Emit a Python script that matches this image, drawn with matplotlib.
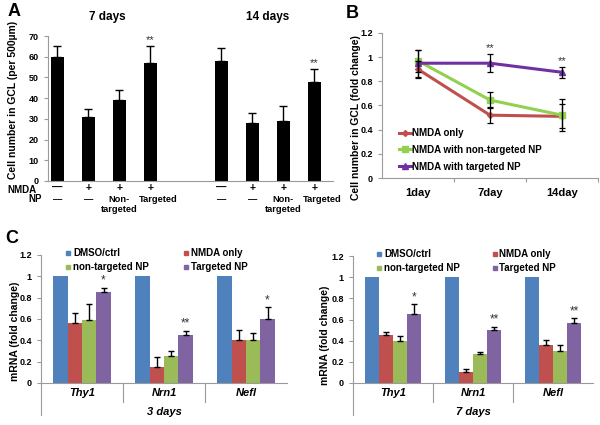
import numpy as np
import matplotlib
matplotlib.use("Agg")
import matplotlib.pyplot as plt

plt.rcParams['font.family'] = ['Liberation Sans', 'DejaVu Sans']
plt.rcParams['font.weight'] = 'bold'

# panel A data
a_pos = [0, 1, 2, 3, 5.3, 6.3, 7.3, 8.3]
a_vals = [60, 31, 39, 57, 58, 28, 29, 48]
a_err = [5, 4, 5, 8, 6, 5, 7, 6]
a_stars = ["", "", "", "**", "", "", "", "**"]
nmda_row = ["—", "+", "+", "+", "—", "+", "+", "+"]
np_row = ["—", "—", "Non-\ntargeted", "Targeted", "—", "—", "Non-\ntargeted", "Targeted"]

# panel B data
b_days = ["1day", "7day", "14day"]
b_nmda = [0.90, 0.52, 0.51]
b_nmda_err = [0.07, 0.065, 0.10]
b_nontarget = [0.97, 0.645, 0.52]
b_nontarget_err = [0.09, 0.065, 0.13]
b_target = [0.95, 0.95, 0.875]
b_target_err = [0.11, 0.075, 0.045]
b_stars = ["", "**", "**"]

# panel C data
genes = ["Thy1", "Nrn1", "Nefl"]
c_series = ["DMSO/ctrl", "NMDA only", "non-targeted NP", "Targeted NP"]
c3_vals = [[1, 1, 1], [0.56, 0.15, 0.40], [0.59, 0.25, 0.40], [0.85, 0.45, 0.60]]
c3_err = [[0, 0, 0], [0.10, 0.09, 0.095], [0.15, 0.05, 0.07], [0.045, 0.04, 0.11]]
c3_stars = ["*", "**", "*"]
c7_vals = [[1, 1, 1], [0.455, 0.10, 0.355], [0.40, 0.27, 0.30], [0.65, 0.50, 0.57]]
c7_err = [[0, 0, 0], [0.03, 0.03, 0.055], [0.04, 0.025, 0.055], [0.095, 0.03, 0.04]]
c7_stars = ["*", "**", "**"]

c_colors = ["#4F81BD", "#C0504D", "#9BBB59", "#8064A2"]
grey = "#9a9a9a"


def fx(x):
    return x / 600


def fy(y):
    return 1 - y / 425


def box(l, t, r, b):
    return [fx(l), fy(b), (r - l) / 600, (b - t) / 425]


def excel_axes(ax):
    for s in ["top", "right"]:
        ax.spines[s].set_visible(False)
    for s in ["left", "bottom"]:
        ax.spines[s].set_color(grey)
        ax.spines[s].set_linewidth(0.8)
    ax.tick_params(colors=grey, labelcolor="black", labelsize=6.5, length=3, width=0.8)
    for t in ax.get_yticklabels():
        t.set_fontweight("bold")


fig = plt.figure(figsize=(6, 4.25), dpi=100)

# ---------- A ----------
axA = fig.add_axes(box(48, 36, 333, 181))
axA.bar(a_pos, a_vals, width=0.42, color="black", zorder=2)
axA.errorbar(a_pos, a_vals, yerr=[np.zeros(len(a_err)), a_err], fmt="none",
             ecolor="black", elinewidth=1, capsize=3, capthick=1, zorder=3)
for x, v, e, s in zip(a_pos, a_vals, a_err, a_stars):
    if s:
        axA.text(x, v + e + 0.5, s, ha="center", va="bottom", fontsize=8,
                 fontweight="normal", color="#333333")
axA.set_ylim(0, 70)
axA.set_xlim(-0.3, 8.9)
axA.set_yticks(range(0, 71, 10))
axA.set_xticks([])
excel_axes(axA)
for x, n, p in zip(a_pos, nmda_row, np_row):
    axA.text(x, -0.05, n, transform=axA.get_xaxis_transform(), ha="center",
             va="center", fontsize=7.5)
    # "Targeted" sits a little to the right of its bar in the original
    dx = 0.25 if p == "Targeted" else 0
    axA.text(x + dx, -0.10, p, transform=axA.get_xaxis_transform(), ha="center",
             va="top", fontsize=6.7, linespacing=1.05, multialignment="center")
fig.text(fx(36), fy(190), "NMDA", ha="right", va="center", fontsize=7)
fig.text(fx(42), fy(199), "NP", ha="right", va="center", fontsize=7)
fig.text(fx(107), fy(17), "7 days", ha="center", va="center", fontsize=8.5)
fig.text(fx(268), fy(17), "14 days", ha="center", va="center", fontsize=8.5)
fig.text(fx(13), fy(100), "Cell number in GCL (per 500µm)", rotation=90,
         ha="center", va="center", fontsize=7.5)
fig.text(fx(14), fy(12), "A", ha="center", va="center", fontsize=13)

# ---------- B ----------
axB = fig.add_axes(box(382, 33, 598, 178))
bx = np.arange(len(b_days))
axB.plot(bx, b_nmda, color="#C0504D", lw=2.2, marker="D", ms=3, label="NMDA only", zorder=3)
axB.plot(bx, b_nontarget, color="#92D050", lw=2.2, marker="s", ms=5,
         label="NMDA with non-targeted NP", zorder=3)
axB.plot(bx, b_target, color="#7030A0", lw=2.2, marker="^", ms=5,
         label="NMDA with targeted NP", zorder=4)
for vals, errs in [(b_nmda, b_nmda_err), (b_nontarget, b_nontarget_err), (b_target, b_target_err)]:
    axB.errorbar(bx, vals, yerr=errs, fmt="none", ecolor="black", elinewidth=0.9,
                 capsize=2, capthick=0.9, zorder=5)
for x, v, e, s in zip(bx, b_target, b_target_err, b_stars):
    if s:
        axB.text(x, v + e + 0.01, s, ha="center", va="bottom", fontsize=8,
                 fontweight="normal", color="#333333")
axB.set_xlim(-0.5, 2.5)
axB.set_ylim(0, 1.2)
axB.set_yticks(np.arange(0, 1.21, 0.2))
axB.set_yticklabels([f"{v:g}" for v in np.arange(0, 1.21, 0.2).round(1)])
axB.set_xticks([0.5, 1.5, 2.5])
axB.set_xticklabels([])
excel_axes(axB)
for x, d in zip(bx, b_days):
    axB.text(x, -0.07, d, transform=axB.get_xaxis_transform(), ha="center",
             va="top", fontsize=8)
leg = axB.legend(loc="lower left", bbox_to_anchor=(0.05, 0.0), frameon=False,
                 fontsize=7, handlelength=1.2, handletextpad=0.1, labelspacing=0.7,
                 borderaxespad=0.25)
fig.text(fx(356), fy(118), "Cell number in GCL (fold change)", rotation=90,
         ha="center", va="center", fontsize=7.5)
fig.text(fx(352), fy(13), "B", ha="center", va="center", fontsize=13)


# ---------- C ----------
def mrna_panel(ax, vals, errs, stars, days):
    w = 0.175
    gx = np.arange(len(genes))
    for i, (v, e) in enumerate(zip(vals, errs)):
        xs = gx + (i - 1.5) * w
        ax.bar(xs, v, width=w, color=c_colors[i], zorder=2)
        if i > 0:
            ax.errorbar(xs, v, yerr=[np.zeros(len(e)), e], fmt="none", ecolor="black",
                        elinewidth=1, capsize=2, capthick=1, zorder=3)
    top = np.array(vals[3]) + np.array(errs[3])
    for x, t, s in zip(gx + 1.5 * w, top, stars):
        ax.text(x, t + 0.01, s, ha="center", va="bottom", fontsize=8.5,
                fontweight="normal", color="#333333")
    ax.set_xlim(-0.5, 2.5)
    ax.set_ylim(0, 1.2)
    ax.set_yticks(np.arange(0, 1.21, 0.2))
    ax.set_yticklabels([f"{v:g}" for v in np.arange(0, 1.21, 0.2).round(1)])
    ax.set_xticks([])
    excel_axes(ax)
    ax.spines["left"].set_visible(False)
    trans = ax.get_xaxis_transform()
    ax.plot([-0.5, -0.5], [1.0, -0.25], transform=trans, color=grey, lw=0.8, clip_on=False)
    for b in [0.5, 1.5]:
        ax.plot([b, b], [0, -0.15], transform=trans, color=grey, lw=0.8, clip_on=False)
    for x, g in zip(gx, genes):
        ax.text(x, -0.04, g, transform=trans, ha="center", va="top", fontsize=8,
                style="italic")
    ax.text(1.0, -0.19, days, transform=trans, ha="center", va="top", fontsize=8,
            style="italic")
    # legend in two columns
    spots = [(0.11, 1.016), (0.59, 1.016), (0.11, 0.906), (0.59, 0.906)]
    for (lx, ly), lab, col in zip(spots, c_series, c_colors):
        ax.plot([lx], [ly], "s", ms=3.5, color=col, transform=ax.transAxes, clip_on=False)
        ax.text(lx + 0.02, ly, lab, transform=ax.transAxes, ha="left", va="center",
                fontsize=7)


axC1 = fig.add_axes(box(41, 255, 287, 383))
mrna_panel(axC1, c3_vals, c3_err, c3_stars, "3 days")
fig.text(fx(15), fy(331), "mRNA (fold change)", rotation=90, ha="center",
         va="center", fontsize=7.5)
fig.text(fx(12), fy(238), "C", ha="center", va="center", fontsize=13)

axC2 = fig.add_axes(box(353, 256, 593, 383))
mrna_panel(axC2, c7_vals, c7_err, c7_stars, "7 days")
fig.text(fx(325), fy(335), "mRNA (fold change)", rotation=90, ha="center",
         va="center", fontsize=7.5)

fig.savefig("out.png", dpi=100)
